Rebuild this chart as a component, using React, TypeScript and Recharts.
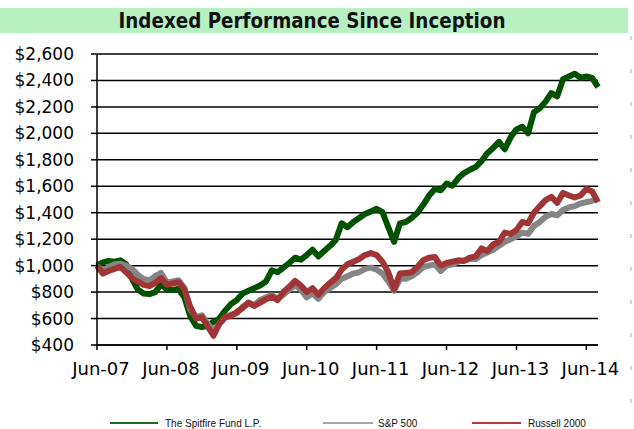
import { LineChart, Line, XAxis, YAxis, CartesianGrid } from 'recharts';

const monthNames = ['Jun', 'Jul', 'Aug', 'Sep', 'Oct', 'Nov', 'Dec', 'Jan', 'Feb', 'Mar', 'Apr', 'May'];

// monthly points, Jun-07 .. Aug-14
const months: string[] = [];
for (let i = 0; i < 87; i++) {
  const yr = 7 + Math.floor((i + 5) / 12);
  months.push(`${monthNames[i % 12]}-${String(yr).padStart(2, '0')}`);
}

const tickLabels = ['Jun-07', 'Jun-08', 'Jun-09', 'Jun-10', 'Jun-11', 'Jun-12', 'Jun-13', 'Jun-14'];
const yTicks = [400, 600, 800, 1000, 1200, 1400, 1600, 1800, 2000, 2200, 2400, 2600];

const spitfire = [
  1000, 1025, 1035, 1030, 1040, 1010, 900, 820, 790, 785, 800, 860,
  820, 815, 825, 760, 620, 545, 535, 545, 575, 600, 660, 710,
  740, 790, 810, 830, 850, 880, 965, 950, 985, 1020, 1060, 1045,
  1080, 1120, 1070, 1110, 1150, 1195, 1320, 1290, 1330, 1360, 1390, 1410,
  1430, 1405, 1290, 1180, 1320, 1330, 1360, 1400, 1460, 1530, 1580, 1570,
  1620, 1605, 1660, 1700, 1725, 1745, 1790, 1850, 1890, 1935, 1880, 1970,
  2030, 2050, 2000, 2160, 2190, 2240, 2305, 2280, 2410, 2430, 2450, 2420,
  2430, 2420, 2350,
];

const sp500 = [
  1000, 960, 990, 1010, 1015, 1000, 975, 930, 900, 890, 920, 945,
  870, 880, 890, 830, 670, 610, 625, 560, 505, 560, 610, 630,
  640, 690, 720, 700, 740, 760, 775, 750, 780, 820, 850, 820,
  760, 790, 750, 800, 830, 860, 900, 920, 940, 950, 975, 985,
  970, 940, 880, 810, 900, 900, 920, 950, 990, 1000, 1010, 960,
  1000, 1010, 1030, 1040, 1050, 1050, 1080, 1100, 1120, 1150, 1180, 1200,
  1220, 1250, 1240, 1300, 1330, 1370, 1390, 1380, 1420, 1440, 1450, 1470,
  1480, 1490, 1510,
];

const russell = [
  1000, 940, 960, 975, 990, 950, 905, 880, 855, 845, 870, 905,
  855, 865, 875, 820, 690, 600, 610, 540, 470, 560, 610, 620,
  650, 680, 720, 695, 720, 745, 765, 740, 800, 840, 885, 850,
  800, 830, 780, 830, 870, 905, 970, 1010, 1030, 1050, 1080, 1095,
  1080, 1030, 950, 820, 940, 945, 950, 990, 1040, 1060, 1065, 1000,
  1020, 1030, 1040, 1035, 1060, 1070, 1130, 1110, 1160, 1180, 1250, 1240,
  1270, 1330, 1320, 1400, 1450, 1495, 1520, 1475, 1550, 1530, 1515, 1530,
  1580, 1560, 1480,
];

const data = months.map((m, i) => ({ month: m, spitfire: spitfire[i], sp500: sp500[i], russell: russell[i] }));

const legendItems = [
  { label: 'The Spitfire Fund L.P.', color: '#1f6b1f', x1: 110, x2: 158, tx: 165 },
  { label: 'S&P 500', color: '#a6a6a6', x1: 323, x2: 373, tx: 378 },
  { label: 'Russell 2000', color: '#b03a3a', x1: 472, x2: 521, tx: 528 },
];

const fmt = (v: number) => `$${v.toLocaleString('en-US')}`;

export default function App() {
  return (
    <div style={{ position: 'absolute', left: 0, top: 0, width: 634, height: 429, background: '#fff' }}>
      <svg width={634} height={429} style={{ position: 'absolute', left: 0, top: 0 }}>
        <rect x={0} y={8} width={628} height={25} fill="#b7f1c2" />
        <text
          x={312}
          y={28}
          textAnchor="middle"
          fontFamily="DejaVu Sans Condensed"
          fontWeight="bold"
          fontSize={21}
          fill="#111"
          textLength={387}
          lengthAdjust="spacingAndGlyphs"
        >
          Indexed Performance Since Inception
        </text>
        <line x1={631} x2={631} y1={36} y2={415} stroke="#c8c8c8" strokeWidth={1.5} strokeDasharray="4 29" />
        {legendItems.map((it) => (
          <g key={it.label}>
            <line x1={it.x1} x2={it.x2} y1={423} y2={423} stroke={it.color} strokeWidth={2} />
            <text x={it.tx} y={427} fontFamily="Liberation Sans" fontSize={10} fill="#111">
              {it.label}
            </text>
          </g>
        ))}
      </svg>
      <div style={{ position: 'absolute', left: 0, top: 0 }}>
        <LineChart width={634} height={385} data={data} margin={{ top: 54, right: 36, bottom: 0, left: 0 }}>
          <CartesianGrid vertical={false} stroke="#000" strokeWidth={1.5} />
          <XAxis
            dataKey="month"
            ticks={tickLabels}
            interval={0}
            height={40}
            tickSize={5}
            tickMargin={12}
            axisLine={{ stroke: '#000', strokeWidth: 1.5 }}
            tickLine={{ stroke: '#000', strokeWidth: 1.5 }}
            tick={{ fill: '#000', fontSize: 18, fontFamily: 'DejaVu Sans', dx: 4 }}
          />
          <YAxis
            domain={[400, 2600]}
            ticks={yTicks}
            width={97}
            tickSize={6}
            tickMargin={17}
            tickFormatter={fmt}
            axisLine={{ stroke: '#000', strokeWidth: 1.5 }}
            tickLine={{ stroke: '#000', strokeWidth: 1.5 }}
            tick={{ fill: '#000', fontSize: 17, fontFamily: 'DejaVu Sans' }}
          />
          <Line dataKey="spitfire" stroke="#005200" strokeWidth={6} dot={false} isAnimationActive={false} strokeLinejoin="round" />
          <Line dataKey="sp500" stroke="#858585" strokeWidth={6} dot={false} isAnimationActive={false} strokeLinejoin="round" />
          <Line dataKey="russell" stroke="#a13434" strokeWidth={6} dot={false} isAnimationActive={false} strokeLinejoin="round" />
        </LineChart>
      </div>
    </div>
  );
}
